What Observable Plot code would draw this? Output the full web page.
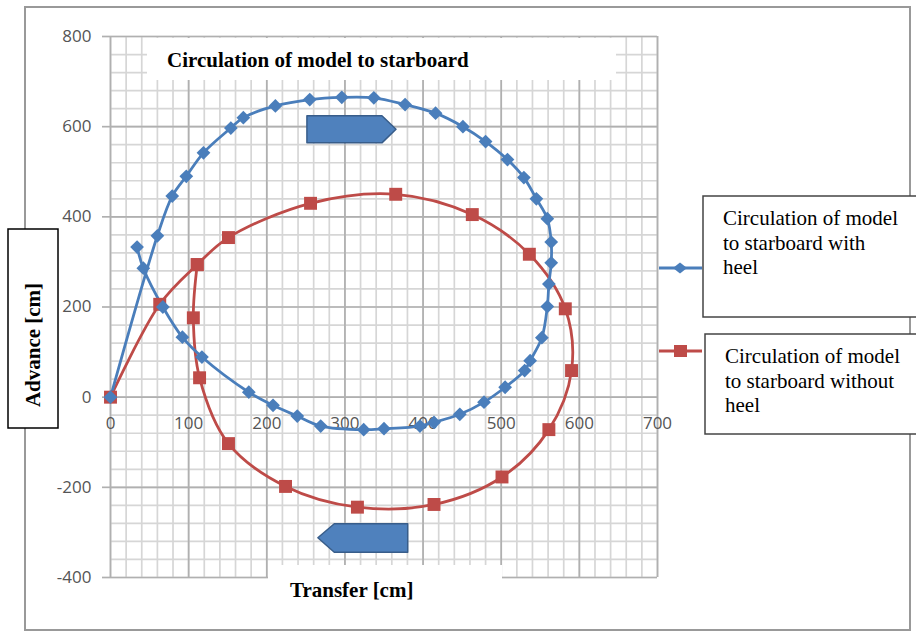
<!DOCTYPE html>
<html>
<head>
<meta charset="utf-8">
<script src="https://cdn.jsdelivr.net/npm/d3@7"></script>
<script src="https://cdn.jsdelivr.net/npm/@observablehq/plot@0.6"></script>
<style>
  html, body { margin: 0; padding: 0; background: #fff; }
  #wrap { position: relative; width: 916px; height: 631px; overflow: hidden; }
  #wrap > svg { position: absolute; left: 0; top: 0; }
  #overlay { position: absolute; left: 0; top: 0; pointer-events: none; }
</style>
</head>
<body>
<div id="wrap"></div>
<script>
// ---- data ----
const withHeelX = [0, 60, 79, 97, 119, 154, 170, 211, 255, 296, 337, 377, 416, 451, 480, 508, 529, 545, 559, 564, 564, 561, 559, 552, 537, 530, 505, 478, 447, 414, 396, 350, 324, 269, 239, 208, 177, 117, 92, 67, 42, 34];
const withHeelY = [0, 358, 446, 490, 542, 597, 620, 646, 660, 665, 664, 649, 630, 600, 567, 527, 487, 440, 396, 344, 298, 251, 201, 132, 81, 59, 22, -11, -38, -56, -64, -70, -72, -64, -42, -18, 11, 89, 133, 200, 286, 333];
const withoutHeelX = [0, 63, 111, 151, 256, 365, 463, 536, 582, 590, 561, 501, 414, 316, 224, 151, 114, 106, 111];
const withoutHeelY = [0, 206, 294, 354, 430, 450, 405, 317, 196, 59, -72, -177, -238, -244, -198, -103, 43, 176, 294];
const seriesNames = ["Circulation of model to starboard with heel", "Circulation of model to starboard without heel"];
const xTickLabels = [0, 100, 200, 300, 400, 500, 600, 700];
const yTickLabels = [-400, -200, 0, 200, 400, 600, 800];
const xMinor = d3.range(0, 701, 20);
const yMinor = d3.range(-400, 801, 40);
// direction arrows (annotation shapes, in data units)
const arrowRight = [{x: 252, y1: 563, y2: 623}, {x: 348, y1: 563, y2: 623}, {x: 366, y1: 593, y2: 593}];
const arrowLeft = [{x: 266, y1: -313, y2: -313}, {x: 287, y1: -345, y2: -282}, {x: 381, y1: -345, y2: -282}];

const withHeel = withHeelX.map((x, i) => ({x, y: withHeelY[i]}));
const withoutHeel = withoutHeelX.map((x, i) => ({x, y: withoutHeelY[i]}));

const BLUE = "#4a7ebb", RED = "#be4b48";

const chart = Plot.plot({
  width: 916,
  height: 631,
  marginLeft: 110,
  marginRight: 259,
  marginTop: 36,
  marginBottom: 54,
  x: {domain: [0, 700], axis: null},
  y: {domain: [-400, 800], axis: null},
  style: {fontFamily: "'Open Sans', sans-serif", fontSize: "17px", background: "white", overflow: "visible"},
  marks: [
    Plot.ruleX(xMinor, {stroke: "#d6d6d6", strokeWidth: 1.7}),
    Plot.ruleY(yMinor, {stroke: "#d6d6d6", strokeWidth: 1.7}),
    Plot.ruleX(xTickLabels, {stroke: "#b0b0b0", strokeWidth: 1.7}),
    Plot.ruleY(yTickLabels, {stroke: "#b0b0b0", strokeWidth: 1.7}),
    Plot.axisY({ticks: yTickLabels, tickSize: 8, tickPadding: 11, stroke: "#b0b0b0", fill: "#555", fontSize: 17, tickFormat: d => d, strokeWidth: 1.7}),
    Plot.text(xTickLabels, {x: d => d, y: 0, dy: 26, text: d => String(d), fill: "#555", fontSize: 17}),
    Plot.line(withoutHeel, {x: "x", y: "y", stroke: RED, strokeWidth: 2.8, curve: "catmull-rom"}),
    Plot.line(withHeel, {x: "x", y: "y", stroke: BLUE, strokeWidth: 2.8, curve: "catmull-rom"}),
    Plot.dot(withoutHeel, {x: "x", y: "y", symbol: "square", r: 7.3, fill: RED, stroke: "none"}),
    Plot.dot(withHeel, {x: "x", y: "y", symbol: "diamond2", r: 6.2, fill: BLUE, stroke: "none"}),
    Plot.areaY(arrowRight, {x: "x", y1: "y1", y2: "y2", fill: "#4f81bd", stroke: "#385d8a", strokeWidth: 1.5}),
    Plot.areaY(arrowLeft, {x: "x", y1: "y1", y2: "y2", fill: "#4f81bd", stroke: "#385d8a", strokeWidth: 1.5})
  ]
});
const wrap = document.getElementById("wrap");
wrap.appendChild(chart);

// ---- overlay: frame, title boxes, legend ----
const ns = "http://www.w3.org/2000/svg";
const ov = document.createElementNS(ns, "svg");
ov.setAttribute("id", "overlay");
ov.setAttribute("width", 916);
ov.setAttribute("height", 631);
function el(tag, attrs, text) {
  const e = document.createElementNS(ns, tag);
  for (const k in attrs) e.setAttribute(k, attrs[k]);
  if (text !== undefined) e.textContent = text;
  ov.appendChild(e);
  return e;
}
const serif = "'Liberation Serif', 'Times New Roman', serif";
// outer chart frame
el("rect", {x: 25, y: 7, width: 885, height: 623, fill: "none", stroke: "#999", "stroke-width": 2});
// chart title box
el("rect", {x: 147, y: 38, width: 469, height: 42, fill: "white"});
el("text", {x: 167, y: 67, "font-family": serif, "font-weight": "bold", "font-size": 21, fill: "#000"}, "Circulation of model to starboard");
// x axis title box
el("rect", {x: 268, y: 565, width: 234, height: 50, fill: "white"});
el("text", {x: 290, y: 597, "font-family": serif, "font-weight": "bold", "font-size": 21, fill: "#000"}, "Transfer [cm]");
// y axis title box
el("rect", {x: 8, y: 229, width: 50, height: 199, fill: "white", stroke: "#000", "stroke-width": 1.5});
el("text", {transform: "translate(40,345) rotate(-90)", "text-anchor": "middle", "font-family": serif, "font-weight": "bold", "font-size": 21, fill: "#000"}, "Advance [cm]");
// legend
const legend = [
  {color: BLUE, sym: "diamond", ly: 268, box: [703, 196, 240, 121], tx: 723, lines: ["Circulation of model", "to starboard with", "heel"], by: 225},
  {color: RED, sym: "square", ly: 351, box: [705, 334, 240, 100], tx: 725, lines: ["Circulation of model", "to starboard without", "heel"], by: 363}
];
legend.forEach(l => {
  el("line", {x1: 659, x2: 702, y1: l.ly, y2: l.ly, stroke: l.color, "stroke-width": 2.8});
  if (l.sym === "diamond") {
    el("path", {d: `M${680-7},${l.ly} L680,${l.ly-5.5} L${680+7},${l.ly} L680,${l.ly+5.5} Z`, fill: l.color});
  } else {
    el("rect", {x: 674, y: l.ly - 6, width: 13, height: 12, fill: l.color});
  }
  el("rect", {x: l.box[0], y: l.box[1], width: l.box[2], height: l.box[3], fill: "white", stroke: "#444", "stroke-width": 1.5});
  l.lines.forEach((t, i) => {
    el("text", {x: l.tx, y: l.by + i * 24.5, "font-family": serif, "font-size": 21, fill: "#000"}, t);
  });
});
wrap.appendChild(ov);
</script>
</body>
</html>
